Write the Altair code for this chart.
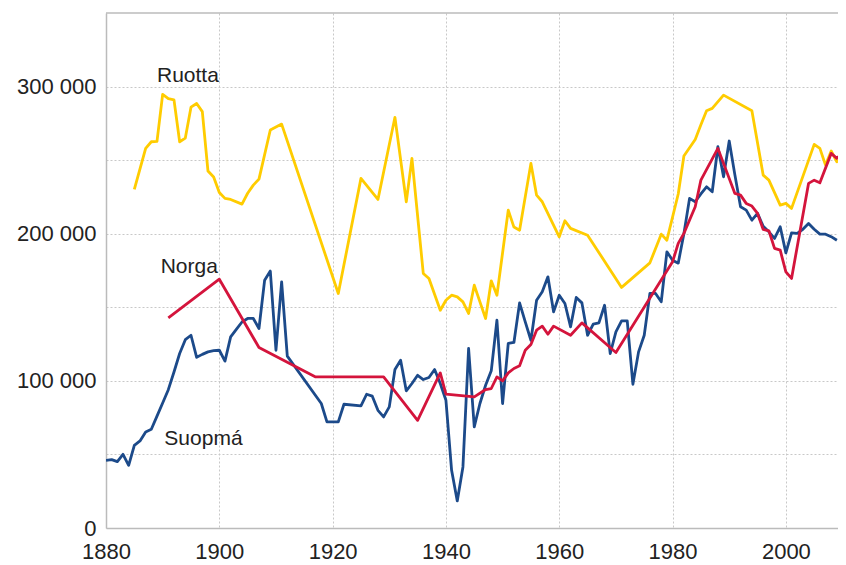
import altair as alt
import pandas as pd

# Suopmá (Finland)
fin_years = [1880, 1881, 1882, 1883, 1884, 1885, 1886, 1887, 1888, 1889, 1890, 1891, 1892, 1893,
             1894, 1895, 1896, 1897, 1898, 1899, 1900, 1901, 1902, 1903, 1904, 1905, 1906, 1907,
             1908, 1909, 1910, 1911, 1912, 1918, 1919, 1921, 1922, 1925, 1926, 1927, 1928, 1929,
             1930, 1931, 1932, 1933, 1934, 1935, 1936, 1937, 1938, 1939, 1940, 1941, 1942, 1943,
             1944, 1945, 1946, 1947, 1948, 1949, 1950, 1951, 1952, 1953, 1954, 1955, 1956, 1957,
             1958, 1959, 1960, 1961, 1962, 1963, 1964, 1965, 1966, 1967, 1968, 1969, 1970, 1971,
             1972, 1973, 1974, 1975, 1976, 1977, 1978, 1979, 1980, 1981, 1982, 1983, 1984, 1985,
             1986, 1987, 1988, 1989, 1990, 1991, 1992, 1993, 1994, 1995, 1996, 1997, 1998, 1999,
             2000, 2001, 2002, 2003, 2004, 2005, 2006, 2007, 2008, 2009]
fin_values = [46000, 46500, 45100, 50100, 42600, 56200, 59200, 65300, 67100, 76000, 85000, 94000,
              106000, 118600, 128000, 131000, 116000, 118000, 119700, 120500, 120800, 113400,
              129900, 135000, 140000, 142400, 142400, 135600, 168400, 174600, 120800, 167300,
              116800, 84600, 72100, 72100, 84100, 83000, 90900, 89600, 80000, 75500, 82300,
              107700, 114000, 93200, 98200, 103800, 100900, 102300, 107700, 98200, 86800, 39200,
              18400, 41500, 122000, 68700, 84600, 97000, 106800, 141200, 84600, 125400, 126100,
              153000, 140100, 127600, 154800, 160500, 170700, 146900, 158200, 152600, 136700,
              156700, 153000, 131000, 138500, 139400, 151400, 118600, 133300, 140800, 140800,
              97700, 119700, 131000, 159400, 159400, 153700, 187700, 182000, 180000, 200000,
              224000, 221700, 227000, 231900, 228500, 259100, 238700, 263000, 240000, 218300,
              216000, 209200, 213800, 205000, 201300, 196800, 204700, 187000, 200600, 200200,
              203000, 207000, 203000, 199700, 199700, 198000, 195600]

# Ruotta (Sweden)
swe_years = [1885, 1887, 1888, 1889, 1890, 1891, 1892, 1893, 1894, 1895, 1896, 1897, 1898, 1899,
             1900, 1901, 1902, 1904, 1905, 1906, 1907, 1909, 1911, 1921, 1925, 1928, 1931, 1933,
             1934, 1936, 1937, 1939, 1940, 1941, 1942, 1943, 1944, 1945, 1946, 1947, 1948, 1949,
             1951, 1952, 1953, 1955, 1956, 1957, 1960, 1961, 1962, 1965, 1971, 1976, 1978, 1979,
             1981, 1982, 1984, 1985, 1986, 1987, 1989, 1994, 1996, 1997, 1999, 2000, 2001, 2005,
             2006, 2007, 2008, 2009, 2010]
swe_values = [230100, 258000, 262500, 262800, 294700, 291800, 291000, 262500, 265000, 286000,
              288500, 283000, 242600, 238500, 228000, 224000, 223300, 220100, 227500, 233000,
              237100, 270500, 274500, 159400, 237600, 223300, 279100, 221700, 251200, 173000,
              169600, 148000, 154800, 158200, 157100, 153700, 145800, 165000, 153700, 142400,
              168000, 158200, 216000, 204500, 202400, 247800, 226200, 221700, 197900, 208800,
              203600, 199000, 163500, 180200, 199700, 195600, 227000, 252800, 264000, 274000,
              283600, 285200, 294200, 283600, 239800, 236400, 219400, 220600, 217200, 260700,
              258000, 246600, 256200, 248900, 251900]

# Norga (Norway)
nor_years = [1891, 1900, 1907, 1917, 1929, 1935, 1939, 1940, 1945, 1947, 1948, 1949, 1950, 1951,
             1952, 1953, 1954, 1955, 1956, 1957, 1958, 1959, 1962, 1964, 1970, 1980, 1981, 1982,
             1984, 1985, 1988, 1991, 1992, 1993, 1994, 1995, 1996, 1997, 1998, 1999, 2000, 2001,
             2004, 2005, 2006, 2008, 2009, 2010]
nor_values = [142800, 169100, 122700, 102700, 102700, 73200, 105400, 91000, 89100, 94100, 94800,
              102700, 100000, 105400, 108400, 110200, 120800, 124700, 134400, 137200, 131700,
              137200, 131000, 139400, 119300, 180900, 193400, 200200, 218300, 236400, 258000,
              227400, 226200, 220600, 218800, 213800, 202900, 202000, 190000, 188800, 174100,
              169600, 234200, 236400, 234600, 254600, 251200, 255000]

series_names = ["Suopmá", "Ruotta", "Norga"]
series_colors = ["#1c4a8a", "#ffcc00", "#d4143c"]

label_texts = ["Ruotta", "Norga", "Suopmá"]
label_years = [1889.0, 1889.65, 1890.3]
label_values = [303000, 173200, 56200]

y_top = [350000]

rows = []
for name, ys, vs in [("Suopmá", fin_years, fin_values),
                     ("Ruotta", swe_years, swe_values),
                     ("Norga", nor_years, nor_values)]:
    for y, v in zip(ys, vs):
        rows.append({"country": name, "year": y, "value": v})
df = pd.DataFrame(rows)

labels = pd.DataFrame({"text": label_texts, "year": label_years, "value": label_values})
top_df = pd.DataFrame({"value": y_top})

x_scale = alt.Scale(domain=[1880, 2009.2], nice=False, zero=False)
y_scale = alt.Scale(domain=[0, 350000], nice=False)

lines = alt.Chart(df).mark_line(strokeWidth=2.8, strokeJoin="round", clip=True).encode(
    x=alt.X("year:Q", scale=x_scale,
            axis=alt.Axis(values=[1880, 1900, 1920, 1940, 1960, 1980, 2000], format="d",
                          title=None, ticks=False, labelPadding=13, labelFlush=False,
                          gridDash=[2, 2], gridColor="#c8c8c8", gridWidth=1,
                          domainColor="#bbbbbb", domainWidth=1.5)),
    y=alt.Y("value:Q", scale=y_scale,
            axis=alt.Axis(values=[0, 50000, 100000, 150000, 200000, 250000, 300000],
                          labelExpr="datum.value % 100000 == 0 ? replace(format(datum.value, ',d'), ',', ' ') : ''",
                          title=None, ticks=False, labelPadding=10, labelFlush=False,
                          gridDash=[2, 2], gridColor="#c8c8c8", gridWidth=1,
                          domainColor="#bbbbbb", domainWidth=1.5)),
    color=alt.Color("country:N", scale=alt.Scale(domain=series_names, range=series_colors),
                    legend=None),
    detail="country:N",
)

top_line = alt.Chart(top_df).mark_rule(color="#bbbbbb", strokeWidth=1.5).encode(
    y=alt.Y("value:Q", scale=y_scale),
)

texts = alt.Chart(labels).mark_text(align="left", baseline="alphabetic", fontSize=21,
                                    font="Liberation Sans", color="#222222").encode(
    x=alt.X("year:Q", scale=x_scale),
    y=alt.Y("value:Q", scale=y_scale),
    text="text:N",
)

chart = alt.layer(lines, top_line, texts).properties(
    width=732, height=515,
    autosize=alt.AutoSizeParams(type="none"),
    padding={"left": 98, "top": 5, "right": 0, "bottom": 37},
).configure_view(
    stroke=None
).configure_axis(
    labelFont="Liberation Sans", labelFontSize=22, labelColor="#222222",
    gridOpacity=1,
)

chart.save("out.html", embed_options={"renderer": "svg", "actions": False})
